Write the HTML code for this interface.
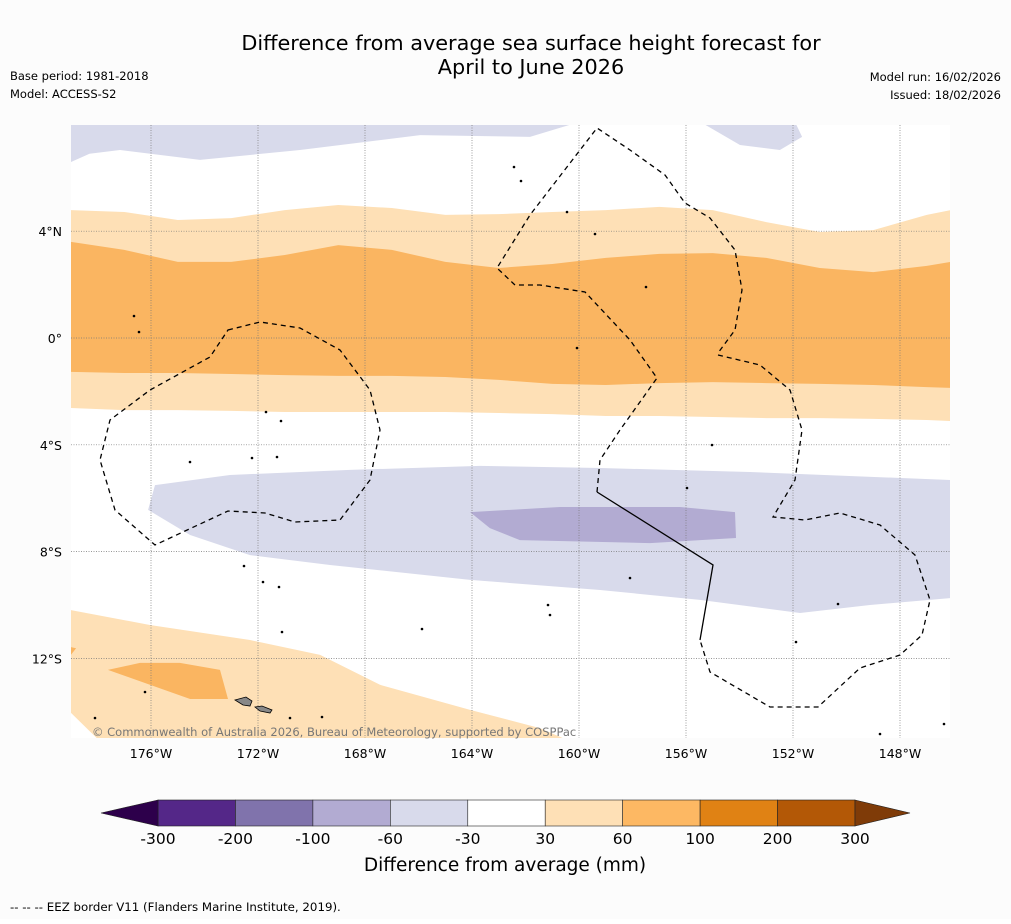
<!DOCTYPE html>
<html><head><meta charset="utf-8"><style>
body{margin:0;background:#fff;}
svg text{font-family:"DejaVu Sans","Liberation Sans",sans-serif;}
</style></head><body>
<svg id="c" width="1011" height="919" viewBox="0 0 1011 919" xmlns="http://www.w3.org/2000/svg">
<rect x="0" y="0" width="1011" height="919" fill="#fcfcfc"/>
<text x="531" y="50" font-size="20.8" text-anchor="middle">Difference from average sea surface height forecast for</text>
<text x="531" y="74" font-size="20.8" text-anchor="middle">April to June 2026</text>
<text x="10" y="80" font-size="11.5">Base period: 1981-2018</text>
<text x="10" y="98" font-size="11.5">Model: ACCESS-S2</text>
<text x="1001" y="81" font-size="11.5" text-anchor="end">Model run: 16/02/2026</text>
<text x="1001" y="99" font-size="11.5" text-anchor="end">Issued: 18/02/2026</text>
<defs><clipPath id="mapclip"><rect x="71" y="125" width="879" height="613"/></clipPath></defs>
<rect x="71" y="125" width="879" height="613" fill="#fff"/>
<g id="map" clip-path="url(#mapclip)"></g>
<g id="axes"></g>
<g id="cbar"></g>
<text x="505" y="871" font-size="18.5" text-anchor="middle">Difference from average (mm)</text>
<text x="10" y="911" font-size="11.8">--  --  -- EEZ border V11 (Flanders Marine Institute, 2019).</text>
</svg>
<script>
// ---- data ----
const bandLons = [-179,-177,-175,-173,-171,-169,-167,-165,-163,-161,-159,-157,-155,-153,-151,-149,-147,-146.1];
const lightTopLat = [4.79,4.72,4.42,4.49,4.79,4.98,4.87,4.61,4.64,4.72,4.79,4.91,4.79,4.34,3.97,4.04,4.61,4.79];
const darkTopLat = [3.60,3.30,2.85,2.85,3.11,3.48,3.30,2.85,2.62,2.77,3.00,3.15,3.18,3.00,2.62,2.47,2.70,2.85];
const darkBotLat = [-1.27,-1.31,-1.31,-1.35,-1.39,-1.42,-1.42,-1.46,-1.57,-1.72,-1.76,-1.69,-1.65,-1.69,-1.72,-1.76,-1.84,-1.87];
const lightBotLat = [-2.62,-2.70,-2.70,-2.73,-2.77,-2.77,-2.77,-2.77,-2.81,-2.85,-2.92,-2.92,-2.96,-3.00,-3.00,-3.03,-3.07,-3.11];
const midPurple = [[-176.11,-6.44],[-175.85,-5.51],[-173.05,-5.13],[-168.56,-4.94],[-163.70,-4.79],[-159.21,-4.87],[-153.61,-5.02],[-146.13,-5.32],[-146.13,-9.74],[-149.12,-10.0],[-151.74,-10.30],[-155.48,-9.81],[-159.21,-9.44],[-164.07,-9.06],[-169.31,-8.50],[-172.30,-8.13],[-174.54,-7.38]];
const darkPurple = [[-164.07,-6.52],[-160.71,-6.33],[-156.22,-6.33],[-154.17,-6.52],[-154.13,-7.49],[-157.35,-7.68],[-162.21,-7.57],[-163.33,-7.12]];
const topPurple = [[-178.99,8.1],[-159.96,8.1],[-161.83,7.53],[-165.94,7.60],[-170.43,7.04],[-174.17,6.67],[-177.16,7.04],[-178.3,6.9],[-178.99,6.59]];
const topRightPurple = [[-155.48,8.1],[-151.93,8.1],[-151.66,7.53],[-152.49,7.04],[-153.98,7.23]];
const swLight = [[-178.99,-10.19],[-176.04,-10.75],[-172.30,-11.31],[-169.68,-11.87],[-167.44,-12.99],[-164.07,-13.93],[-161.46,-14.61],[-160.34,-15.1],[-177.91,-15.1],[-178.99,-14.04]];
const swDark = [[-177.61,-12.43],[-176.41,-12.17],[-174.92,-12.17],[-173.42,-12.43],[-173.12,-13.52],[-174.54,-13.52],[-176.04,-12.99]];
const swDark2 = [[-179.1,-11.55],[-178.8,-11.62],[-179.1,-12.0]];
const lonTicks = [-176,-172,-168,-164,-160,-156,-152,-148];
const latTicks = [4,0,-4,-8,-12];
const cbBounds = [-300,-200,-100,-60,-30,30,60,100,200,300];
const cbColors = ["#542788","#8073ac","#b2abd2","#d8daeb","#ffffff","#fee0b6","#fdb863","#e08214","#b35806"];
const cbExtendColors = ["#2d004b","#7f3b08"];

// ---- axes functions ----
const X = lon => 151 + (lon + 176) * 26.75;
const Y = lat => 338 - lat * 26.7;
const NS = "http://www.w3.org/2000/svg";
function mk(tag, attrs, parent){const e=document.createElementNS(NS,tag);for(const k in attrs)e.setAttribute(k,attrs[k]);parent.appendChild(e);return e;}
const map = document.getElementById('map');
function poly(pts, fill, name){
  const e = mk('polygon',{points:pts.map(p=>X(p[0]).toFixed(1)+','+Y(p[1]).toFixed(1)).join(' '),fill:fill},map);
  
  
}
function band(top, bot, fill, name){
  const pts=[];bandLons.forEach((l,i)=>pts.push([l,top[i]]));
  for(let i=bandLons.length-1;i>=0;i--)pts.push([bandLons[i],bot[i]]);
  poly(pts,fill,name);
}
poly(topPurple,"#d8daeb","contour-top-purple");
poly(topRightPurple,"#d8daeb","contour-top-right-purple");
band(lightTopLat,lightBotLat,"#fee0b6","contour-equatorial-light-orange");
band(darkTopLat,darkBotLat,"#fab561","contour-equatorial-orange");
poly(midPurple,"#d8daeb","contour-south-purple");
poly(darkPurple,"#b2abd2","contour-south-dark-purple");
poly(swLight,"#fee0b6","contour-southwest-light-orange");
poly(swDark,"#fab561","contour-southwest-orange");
poly(swDark2,"#fab561","contour-southwest-orange-edge");

// grid lines
lonTicks.forEach(l=>{const e=mk('line',{x1:X(l),x2:X(l),y1:125,y2:738,stroke:'#777','stroke-width':0.7,'stroke-dasharray':'1,1.5'},map);

});
latTicks.forEach(l=>{const e=mk('line',{x1:71,x2:950,y1:Y(l),y2:Y(l),stroke:'#777','stroke-width':0.7,'stroke-dasharray':'1,1.5'},map);

});

// EEZ borders
const eez1 = mk('path',{d:"M597,492 L600,460 L620,430 L657,378 L630,340 L585,292 L540,285 L515,285 L497,268 L530,215 L597,128 L630,150 L665,175 L685,203 L710,218 L735,250 L742,290 L735,330 L718,353 M718,355 L760,365 L790,390 L802,430 L795,480 L773,517 L805,520 L840,513 L880,525 L915,555 L930,600 L922,635 L900,655 L860,668 L818,707 L770,707 L710,672 L700,640",fill:'none',stroke:'#000','stroke-width':1.3,'stroke-dasharray':'5,4'},map);


const eez2 = mk('path',{d:"M597,492 L713,565 L700,640",fill:'none',stroke:'#000','stroke-width':1.3},map);


const eez3 = mk('path',{d:"M228,330 L260,322 L300,328 L340,350 L370,390 L380,430 L370,480 L340,520 L295,522 L265,513 L228,511 L155,545 L115,510 L100,460 L110,420 L150,390 L210,357 Z",fill:'none',stroke:'#000','stroke-width':1.3,'stroke-dasharray':'5,4'},map);



// islands
const isl = mk('g',{},map);


mk('polygon',{points:"235,700 246,697 252,701 250,706 243,705",fill:'#888',stroke:'#000','stroke-width':0.8},isl);
mk('polygon',{points:"255,707 262,706 272,710 270,713 260,711",fill:'#888',stroke:'#000','stroke-width':0.8},isl);
[[514,167],[521,181],[567,212],[595,234],[646,287],[577,348],[266,412],[281,421],[190,462],[252,458],[277,457],[712,445],[687,488],[630,578],[244,566],[263,582],[279,587],[548,605],[550,615],[422,629],[282,632],[838,604],[796,642],[145,692],[95,718],[290,718],[322,717],[880,734],[944,724],[134,316],[139,332]].forEach(p=>mk('circle',{cx:p[0],cy:p[1],r:1.3,fill:'#000'},isl));

// axis labels
const axes=document.getElementById('axes');
lonTicks.forEach(l=>{const t=mk('text',{x:X(l),y:758,'font-size':12.5,'text-anchor':'middle'},axes);t.textContent=Math.abs(l)+'°W';

});
latTicks.forEach(l=>{const t=mk('text',{x:62,y:Y(l)+5,'font-size':12.5,'text-anchor':'end'},axes);t.textContent=l===0?'0°':Math.abs(l)+'°'+(l>0?'N':'S');

});
const cp=mk('text',{x:92,y:736,'font-size':11.5,fill:'#777'},axes);cp.textContent='© Commonwealth of Australia 2026, Bureau of Meteorology, supported by COSPPac';



// colorbar
const cb=document.getElementById('cbar');
const cx0=158,cx1=855,cy=800,ch=26,seg=(cx1-cx0)/cbColors.length;
const CB = i => cx0 + i*seg;
cbColors.forEach((c,i)=>{const r=mk('rect',{x:CB(i),y:cy,width:seg,height:ch,fill:c,stroke:'#222','stroke-width':0.6},cb);

});
const tl=mk('polygon',{points:`${cx0},${cy} 101,${cy+ch/2} ${cx0},${cy+ch}`,fill:cbExtendColors[0],stroke:'#222','stroke-width':0.6},cb);


const tr=mk('polygon',{points:`${cx1},${cy} 910,${cy+ch/2} ${cx1},${cy+ch}`,fill:cbExtendColors[1],stroke:'#222','stroke-width':0.6},cb);


cbBounds.forEach((b,i)=>{const t=mk('text',{x:CB(i),y:844,'font-size':15.5,'text-anchor':'middle'},cb);t.textContent=b;

});
</script>
</body></html>
